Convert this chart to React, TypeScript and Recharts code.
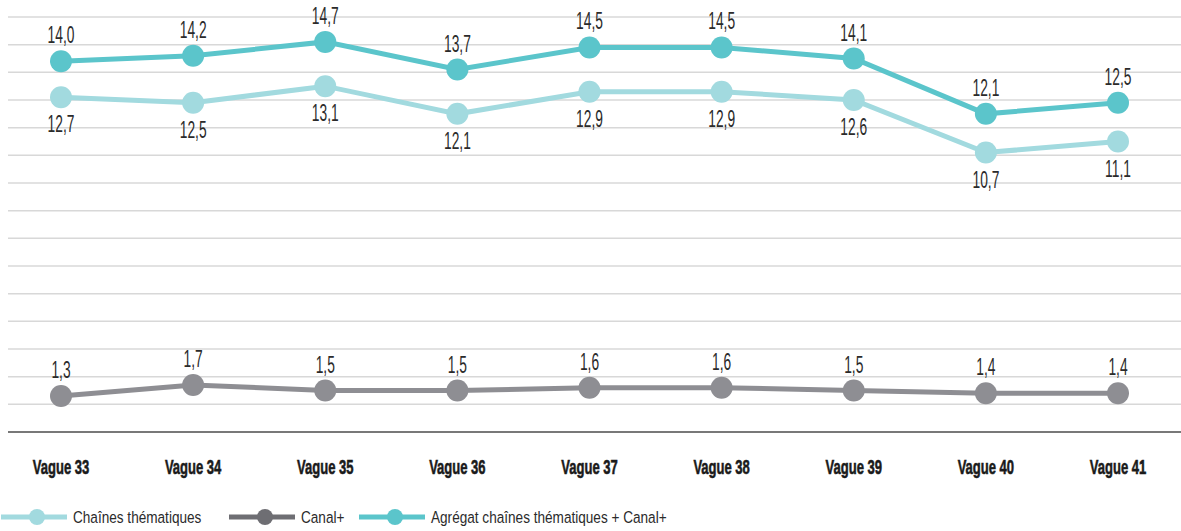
import React from "react";
import {
  LineChart,
  Line,
  XAxis,
  YAxis,
  CartesianGrid,
  LabelList,
  Legend,
} from "recharts";

const FONT = "'Liberation Sans', Arial, sans-serif";

const waves = [
  "Vague 33",
  "Vague 34",
  "Vague 35",
  "Vague 36",
  "Vague 37",
  "Vague 38",
  "Vague 39",
  "Vague 40",
  "Vague 41",
];
const thematiques = [12.7, 12.5, 13.1, 12.1, 12.9, 12.9, 12.6, 10.7, 11.1];
const canalPlus = [1.3, 1.7, 1.5, 1.5, 1.6, 1.6, 1.5, 1.4, 1.4];
const agregat = [14.0, 14.2, 14.7, 13.7, 14.5, 14.5, 14.1, 12.1, 12.5];
const gridTicks = [0, 1, 2, 3, 4, 5, 6, 7, 8, 9, 10, 11, 12, 13, 14, 15];

const COLORS = {
  thematiques: "#a2dadf",
  canal: "#8e8e93",
  canalLegend: "#6e6e73",
  agregat: "#5bc5cb",
};

const data = waves.map((name, i) => ({
  name,
  thematiques: thematiques[i],
  canal: canalPlus[i],
  agregat: agregat[i],
}));

const fmt = (v: number) => v.toFixed(1).replace(".", ",");

const legendItems = [
  { label: "Chaînes thématiques", color: COLORS.thematiques, x: 0 },
  { label: "Canal+", color: COLORS.canalLegend, x: 228 },
  { label: "Agrégat chaînes thématiques + Canal+", color: COLORS.agregat, x: 358 },
];

// condensed text, the original uses a narrow DIN-like face
const Narrow = ({ x, y, scale, children, ...rest }: any) => (
  <text transform={`translate(${x},${y}) scale(${scale},1)`} fontFamily={FONT} {...rest}>
    {children}
  </text>
);

const LegendContent = () => (
  <svg width={700} height={31}>
    {legendItems.map((item) => (
      <g key={item.label}>
        <line x1={item.x + 1} y1={17} x2={item.x + 67} y2={17} stroke={item.color} strokeWidth={5} />
        <circle cx={item.x + 37} cy={17} r={8} fill={item.color} />
        <Narrow x={item.x + 73} y={23} scale={0.8} fontSize={17} fill="#2b2b2b">
          {item.label}
        </Narrow>
      </g>
    ))}
  </svg>
);

const makeLabel = (dy: number) => (props: any) => {
  const { x, y, value } = props;
  return (
    <Narrow x={x} y={y + dy} scale={0.6} fontSize={23} textAnchor="middle" fill="#2b2b2b">
      {fmt(Number(value))}
    </Narrow>
  );
};

const WaveTick = (props: any) => {
  const { x, y, payload } = props;
  return (
    <Narrow
      x={x}
      y={y + 42}
      scale={0.62}
      fontSize={21}
      fontWeight={700}
      textAnchor="middle"
      fill="#1a1a1a"
      stroke="#1a1a1a"
      strokeWidth={0.6}
    >
      {payload.value}
    </Narrow>
  );
};

export default function App() {
  return (
    <div style={{ position: "absolute", left: 0, top: 0, background: "#fff" }}>
      <LineChart
        width={1181}
        height={531}
        data={data}
        margin={{ top: 17, right: 0, bottom: 0, left: 8 }}
      >
        <CartesianGrid
          vertical={false}
          yAxisId="base"
          stroke="#d8d8d8"
          strokeWidth={1.5}
        />
        <XAxis
          dataKey="name"
          padding={{ left: 53, right: 63 }}
          axisLine={{ stroke: "#555", strokeWidth: 1.5 }}
          tickLine={false}
          tickSize={0}
          tickMargin={0}
          height={68}
          tick={<WaveTick />}
        />
        <YAxis yAxisId="base" hide domain={[0, 15]} ticks={gridTicks} />
        <YAxis yAxisId="top" hide domain={[0.6, 15.6]} />
        <Legend
          verticalAlign="bottom"
          align="left"
          height={31}
          wrapperStyle={{ left: 0 }}
          content={<LegendContent />}
        />
        <Line
          yAxisId="top"
          dataKey="thematiques"
          stroke={COLORS.thematiques}
          strokeWidth={5}
          dot={{ r: 11, fill: COLORS.thematiques, stroke: "none" }}
          activeDot={false}
          isAnimationActive={false}
        >
          <LabelList dataKey="thematiques" content={makeLabel(35)} />
        </Line>
        <Line
          yAxisId="base"
          dataKey="canal"
          stroke={COLORS.canal}
          strokeWidth={5}
          dot={{ r: 11, fill: COLORS.canal, stroke: "none" }}
          activeDot={false}
          isAnimationActive={false}
        >
          <LabelList dataKey="canal" content={makeLabel(-18)} />
        </Line>
        <Line
          yAxisId="top"
          dataKey="agregat"
          stroke={COLORS.agregat}
          strokeWidth={5}
          dot={{ r: 11, fill: COLORS.agregat, stroke: "none" }}
          activeDot={false}
          isAnimationActive={false}
        >
          <LabelList dataKey="agregat" content={makeLabel(-18)} />
        </Line>
      </LineChart>
    </div>
  );
}
